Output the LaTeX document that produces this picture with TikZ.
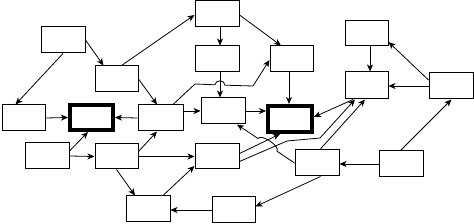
\documentclass[tikz,border=0pt]{standalone}
\usetikzlibrary{arrows.meta,calc}
\begin{document}
\begin{tikzpicture}[x=1pt,y=-1pt,
  box/.style={draw,line width=1pt,minimum width=44pt,minimum height=26pt,inner sep=0pt},
  hbox/.style={draw,line width=4pt,minimum width=44pt,minimum height=26pt,inner sep=0pt},
  arr/.style={line width=0.8pt,-{Stealth[length=7pt,width=6pt,inset=2pt]}}]
\fill[white] (0,0) rectangle (474,224);
\useasboundingbox (0,0) rectangle (474,224);
% nodes
\node[box] (A) at (63,40) {};
\node[box,minimum width=43pt] (B) at (116.5,79) {};
\node[box,minimum width=43pt] (C) at (23.5,118) {};
\node[hbox,minimum width=43pt,minimum height=25pt] (D) at (91.5,117.5) {};
\node[box,minimum width=45pt] (E) at (160.5,118) {};
\node[box] (F) at (217,14) {};
\node[box] (G) at (217,59) {};
\node[box] (H) at (223,111) {};
\node[box,minimum width=43pt] (I) at (291.5,59) {};
\node[hbox] (J) at (290,119) {};
\node[box,minimum width=43pt,minimum height=25pt] (K) at (366.5,33.5) {};
\node[box,minimum width=43pt,minimum height=27pt] (L) at (366.5,85.5) {};
\node[box] (M) at (451,86) {};
\node[box] (N) at (47,156) {};
\node[box,minimum width=43pt,minimum height=25pt] (O) at (116.5,156.5) {};
\node[box,minimum height=25pt] (P) at (217,156.5) {};
\node[box] (Q) at (148,209) {};
\node[box,minimum width=43pt] (R) at (233.5,210) {};
\node[box] (S) at (317,163) {};
\node[box] (T) at (401,164) {};
% bend points
\coordinate (eb1) at (195,84);
\coordinate (eb2) at (253,86);
\coordinate (pb1) at (287,141);
\coordinate (pb2) at (320,138);
% connectors
\draw[arr] (A.south) -- ([xshift=-8pt]C.north);
\draw[arr] (A.east) -- ([xshift=-13pt]B.north);
\draw[arr] ([xshift=5pt]B.north) -- ([yshift=-1pt]F.west);
\draw[arr] (B.east) -- ([xshift=-3.5pt]E.north);
\draw[arr] ([xshift=3pt]F.south) -- ([xshift=3pt]G.north);
\draw[arr] ([xshift=3pt]G.south) -- ([xshift=3pt]G.south |- H.north);
\draw[arr] ([xshift=12.5pt]E.north) -- (eb1) -- (215,84.8) .. controls (215,79.5) and (225,79.5) .. (225,85.2) -- (eb2) -- ([yshift=-1pt]I.west);
\draw[arr] ([yshift=-1pt]F.east) -- ([xshift=-10.5pt]I.north);
\draw[arr] ([xshift=-2.5pt]I.south) -- ([xshift=-2.5pt]I.south |- J.north);
\draw[arr] (C.east) -- (D.west);
\draw[arr] (E.west) -- (D.east);
\draw[arr] ([yshift=7pt]E.east) -- (H.west);
\draw[arr] (H.east) -- ([yshift=8pt]J.west);
\draw[arr] ([yshift=5pt]N.east) -- ([xshift=-3.5pt]D.south);
\draw[arr] (N.east) -- (O.west);
\draw[arr] ([yshift=5pt]O.east) -- ([xshift=-3.5pt]E.south);
\draw[arr] (O.east) -- (P.west);
\draw[arr] (O.south) -- ([xshift=-13pt]Q.north);
\draw[arr] ([xshift=15pt]Q.north) -- ([yshift=-9.5pt]P.west);
\draw[arr] (R.west) -- (R.west -| Q.east);
\draw[arr] (S.west) -- (277,151.2) .. controls (280.3,146.2) and (261.3,133.5) .. (258,138.5) -- ([xshift=14pt]H.south);
\draw[arr] ([yshift=3pt]P.east) -- ([xshift=-10pt]J.south);
\draw[arr] ([yshift=-5pt]P.east) -- (pb1) -- (pb2) -- ([xshift=-11.5pt]L.south);
\draw[arr] ([xshift=-13.5pt]L.south) -- ([yshift=2pt]J.east);
\draw[arr] ([xshift=3pt]S.north) -- ([xshift=-1.5pt]L.south);
\draw[arr] (M.west) -- (M.west -| L.east);
\draw[arr] ([yshift=6pt]M.west) -- ([yshift=-8.5pt]K.east);
\draw[arr] ([xshift=3.5pt]K.south) -- ([xshift=3.5pt]K.south |- L.north);
\draw[arr] ([xshift=-0.5pt]T.north) -- ([xshift=0.5pt]M.south);
\draw[arr] (T.west) -- (T.west -| S.east);
\draw[arr] ([xshift=3.5pt]S.south) -- ([yshift=3.5pt]R.east);
\end{tikzpicture}
\end{document}
